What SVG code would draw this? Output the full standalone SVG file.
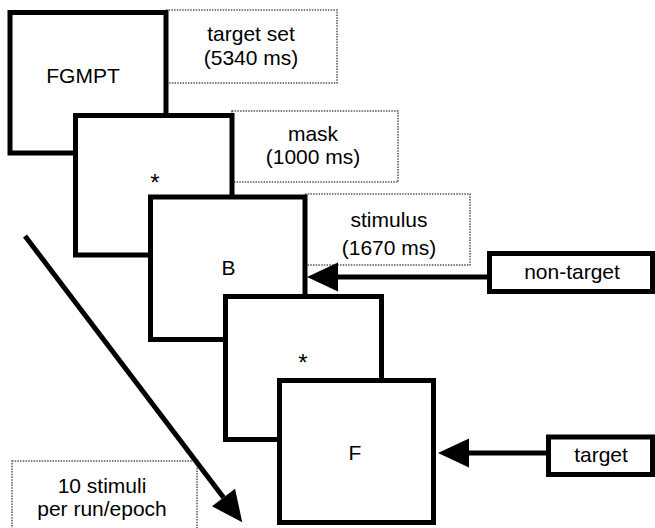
<svg xmlns="http://www.w3.org/2000/svg" width="655" height="528" viewBox="0 0 655 528">
<style>
.bg{fill:#fff}
.box{fill:#fff;stroke:#000;stroke-width:5}
.note{fill:#fff;stroke:#555;stroke-width:1.5;stroke-dasharray:1.5 1.2}
.t{font-family:"Liberation Sans",Arial,sans-serif;font-size:21px;fill:#000;text-anchor:middle}
.ast{font-size:24px}
.conn{stroke:#000;stroke-width:5;fill:none}
</style>
<defs>
<marker id="ah" markerUnits="userSpaceOnUse" markerWidth="32" markerHeight="32" refX="0" refY="14.5" orient="auto" overflow="visible">
<path d="M0,0 L31,14.5 L0,29 z" fill="#000"/>
</marker>
</defs>
<rect class="bg" x="0" y="0" width="655" height="528"/>
<g id="notes">
<g id="note-target-set"><rect class="note" x="166" y="10" width="171" height="73"/><text class="t" x="251" y="41">target set</text><text class="t" x="251" y="65">(5340 ms)</text></g>
<g id="note-mask"><rect class="note" x="232" y="111" width="166" height="71"/><text class="t" x="313" y="141">mask</text><text class="t" x="313" y="164">(1000 ms)</text></g>
<g id="note-stimulus"><rect class="note" x="305" y="194" width="165" height="71"/><text class="t" x="389" y="227">stimulus</text><text class="t" x="389" y="255">(1670 ms)</text></g>
<g id="note-count"><rect class="note" x="12" y="461" width="185" height="80"/><text class="t" x="102" y="493">10 stimuli</text><text class="t" x="102" y="516">per run/epoch</text></g>
</g>
<g id="screen1"><rect class="box" x="10" y="12.5" width="156" height="140.5"/><text class="t" x="83" y="83">FGMPT</text></g>
<g id="screen2"><rect class="box" x="75.5" y="115.5" width="156.5" height="139.5"/><text class="t ast" x="155" y="191">*</text></g>
<g id="screen3"><rect class="box" x="150.5" y="197" width="154.5" height="142.5"/><text class="t" x="228.5" y="275">B</text></g>
<g id="screen4"><rect class="box" x="225.5" y="296.5" width="156" height="143"/><text class="t ast" x="303" y="371">*</text></g>
<g id="screen5"><rect class="box" x="279.5" y="380.5" width="154" height="142"/><text class="t" x="355" y="460">F</text></g>
<g id="nontarget"><rect class="box" x="489.5" y="253.5" width="163" height="38"/><text class="t" x="572" y="279">non-target</text></g>
<g id="target"><rect class="box" x="548.5" y="437" width="104" height="37.5"/><text class="t" x="601" y="462">target</text></g>
<g id="connectors">
<line class="conn" x1="489" y1="277" x2="338" y2="277" marker-end="url(#ah)"/>
<line class="conn" x1="548" y1="453" x2="469" y2="453" marker-end="url(#ah)"/>
<line class="conn" stroke-width="4.5" x1="25" y1="236" x2="223.5" y2="497.5" marker-end="url(#ah)"/>
</g>
</svg>
